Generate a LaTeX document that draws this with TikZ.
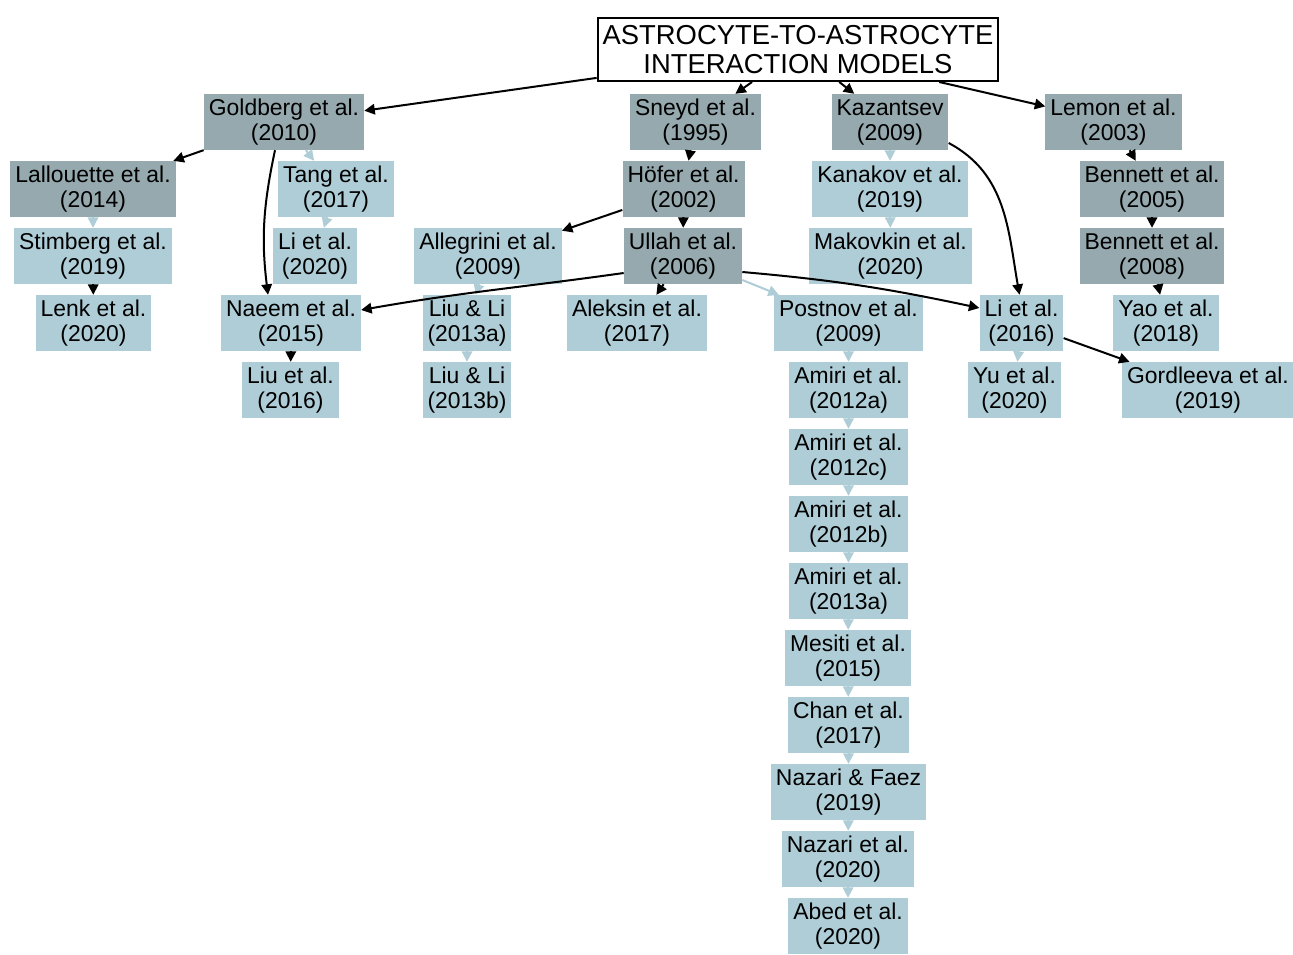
\documentclass[tikz,border=0pt]{standalone}
\usepackage{fontspec}
\setmainfont{Liberation Sans}
\usetikzlibrary{arrows.meta}
\definecolor{darkbox}{RGB}{149,169,174}
\definecolor{lightbox}{RGB}{174,205,214}
\begin{document}
\begin{tikzpicture}[x=1pt, y=-1pt,
  box/.style={inner xsep=5pt, inner ysep=0pt, minimum height=56pt, align=center,
    font=\fontsize{22.9}{25}\selectfont},
  darknode/.style={box, fill=darkbox},
  lightnode/.style={box, fill=lightbox},
  rootnode/.style={box, draw=black, line width=2pt, fill=white,
    minimum width=400pt, minimum height=63pt, font=\fontsize{27.4}{29.5}\selectfont},
  tip/.style={-{Triangle[length=10.5pt,width=10.5pt]}},
  blk/.style={draw=black, line width=2pt, tip},
  lbl/.style={draw=lightbox, line width=2pt, tip}]
\useasboundingbox (0,0) rectangle (1293,954);

% root
\node[rootnode] (root) at (798,49.5) {ASTROCYTE-TO-ASTROCYTE\\INTERACTION MODELS};

% first level
\node[darknode] (gold) at (284,122) {Goldberg et al.\\(2010)};
\node[darknode] (sneyd) at (695.5,122) {Sneyd et al.\\(1995)};
\node[darknode] (kaz) at (890,122) {Kazantsev\\(2009)};
\node[darknode] (lemon) at (1113.5,122) {Lemon et al.\\(2003)};

% second level
\node[darknode] (lall) at (93,189) {Lallouette et al.\\(2014)};
\node[lightnode] (tang) at (336,189) {Tang et al.\\(2017)};
\node[darknode] (hofer) at (683.5,189) {Höfer et al.\\(2002)};
\node[lightnode] (kana) at (890,189) {Kanakov et al.\\(2019)};
\node[darknode] (ben05) at (1152,189) {Bennett et al.\\(2005)};

% third level
\node[lightnode] (stim) at (93,256) {Stimberg et al.\\(2019)};
\node[lightnode] (li20) at (315,256) {Li et al.\\(2020)};
\node[lightnode] (alle) at (488,256) {Allegrini et al.\\(2009)};
\node[darknode] (ullah) at (683,256) {Ullah et al.\\(2006)};
\node[lightnode] (mako) at (890.5,256) {Makovkin et al.\\(2020)};
\node[darknode] (ben08) at (1152,256) {Bennett et al.\\(2008)};

% fourth level
\node[lightnode] (lenk) at (93.5,323) {Lenk et al.\\(2020)};
\node[lightnode] (naeem) at (291,323) {Naeem et al.\\(2015)};
\node[lightnode] (liua) at (467,323) {Liu \& Li\\(2013a)};
\node[lightnode] (alek) at (637,323) {Aleksin et al.\\(2017)};
\node[lightnode] (post) at (848.5,323) {Postnov et al.\\(2009)};
\node[lightnode] (li16) at (1021.5,323) {Li et al.\\(2016)};
\node[lightnode] (yao) at (1166,323) {Yao et al.\\(2018)};

% fifth level
\node[lightnode] (liu16) at (290.5,390) {Liu et al.\\(2016)};
\node[lightnode] (liub) at (467,390) {Liu \& Li\\(2013b)};
\node[lightnode] (am12a) at (848.5,390) {Amiri et al.\\(2012a)};
\node[lightnode] (yu) at (1014.5,390) {Yu et al.\\(2020)};
\node[lightnode] (gord) at (1208,390) {Gordleeva et al.\\(2019)};

% Postnov chain
\node[lightnode] (am12c) at (848.5,457) {Amiri et al.\\(2012c)};
\node[lightnode] (am12b) at (848.5,524) {Amiri et al.\\(2012b)};
\node[lightnode] (am13a) at (848.5,591) {Amiri et al.\\(2013a)};
\node[lightnode] (mesi) at (848,658) {Mesiti et al.\\(2015)};
\node[lightnode] (chan) at (848.5,725) {Chan et al.\\(2017)};
\node[lightnode] (nafa) at (848.5,792) {Nazari \& Faez\\(2019)};
\node[lightnode] (naz20) at (848,859) {Nazari et al.\\(2020)};
\node[lightnode] (abed) at (848,926) {Abed et al.\\(2020)};

% connectors from the root
\draw[blk] (root) -- (gold);
\draw[blk] (root) -- (sneyd);
\draw[blk] (root) -- (kaz);
\draw[blk] (root) -- (lemon);

% Goldberg branch
\draw[blk] (gold) -- (lall);
\draw[lbl] (gold) -- (tang);
\draw[blk] ([xshift=-9pt]gold.south) to[out=-102, in=97] ([xshift=-23pt]naeem.north);
\draw[lbl] (lall) -- (stim);
\draw[blk] (stim) -- (lenk);
\draw[lbl] (tang) -- (li20);
\draw[blk] (naeem) -- (liu16);

% Sneyd branch
\draw[blk] (sneyd) -- (hofer);
\draw[blk] (hofer) -- (alle);
\draw[blk] (hofer) -- (ullah);
\draw[lbl] (alle) -- (liua);
\draw[lbl] (liua) -- (liub);
\draw[blk] ([yshift=-17pt]ullah.west) to[out=188, in=10] ([yshift=13pt]naeem.east);
\draw[blk] (ullah) -- (alek);
\draw[lbl] (ullah) -- (post);
\draw[blk] ([yshift=-16pt]ullah.east) to[out=-5, in=168] ([yshift=15pt]li16.west);

% Kazantsev branch
\draw[lbl] (kaz) -- (kana);
\draw[lbl] (kana) -- (mako);
\draw[blk] ([yshift=-21pt]kaz.east) to[out=-28, in=100] ([xshift=-2pt]li16.north);
\draw[lbl] (li16) -- (yu);
\draw[blk] (li16) -- (gord);

% Lemon branch
\draw[blk] (lemon) -- (ben05);
\draw[blk] (ben05) -- (ben08);
\draw[blk] (ben08) -- (yao);

% Postnov chain
\draw[lbl] (post) -- (am12a);
\draw[lbl] (am12a) -- (am12c);
\draw[lbl] (am12c) -- (am12b);
\draw[lbl] (am12b) -- (am13a);
\draw[lbl] (am13a) -- (mesi);
\draw[lbl] (mesi) -- (chan);
\draw[lbl] (chan) -- (nafa);
\draw[lbl] (nafa) -- (naz20);
\draw[lbl] (naz20) -- (abed);
\end{tikzpicture}
\end{document}
